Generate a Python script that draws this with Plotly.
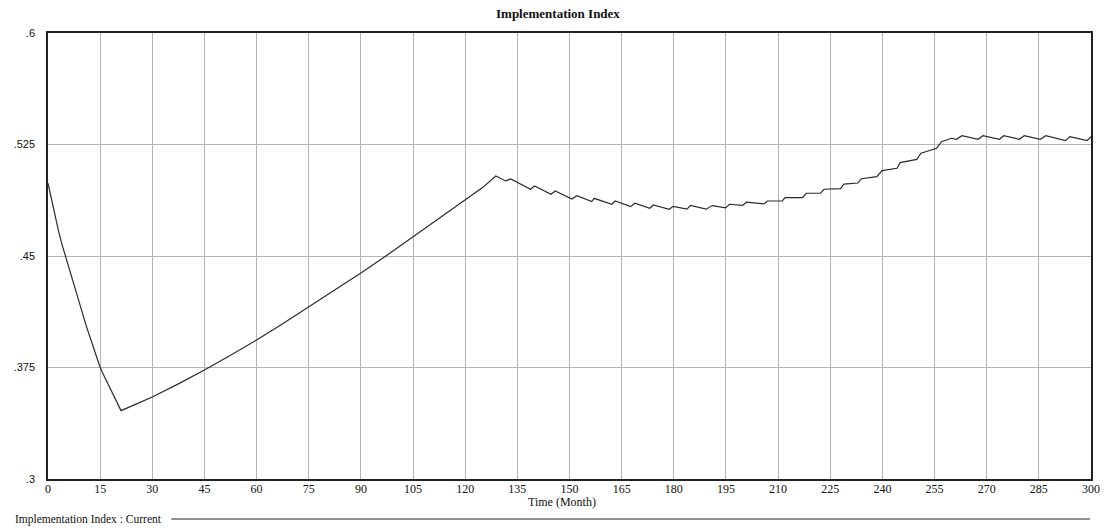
import plotly.graph_objects as go

# ---- data ----
time_month = [
    0, 1, 2, 3, 4, 5, 6, 7, 8, 9, 10, 11, 12, 13, 14, 15, 16, 17, 18, 19, 20, 21,
    25, 30, 37.5, 45, 52.5, 60, 67.5, 75, 82.5, 90, 97.5, 105, 112.5, 120, 125, 128.8,
    131.6, 133.1, 138.8, 139.9, 144.7, 145.9, 150.7, 152.1, 156.4, 157.1, 162.2, 163.1,
    167.6, 168.8, 173.1, 174.1, 178.7, 179.8, 183.8, 184.8, 189.3, 191.1, 194.9, 196.0,
    199.8, 200.9, 206.0, 206.9, 211.2, 212.0, 217.0, 218.1, 222.2, 223.2, 228.0, 228.9,
    232.9, 234.0, 238.4, 239.9, 244.2, 245.1, 249.9, 251.1, 255.6, 257.0, 259.9, 261.3,
    262.9, 267.5, 268.9, 273.7, 274.9, 279.4, 280.8, 285.4, 287.0, 292.7, 293.9, 298.9, 300.0,
]
implementation_index = [
    0.499, 0.488, 0.477, 0.467, 0.458, 0.450, 0.442, 0.434, 0.426, 0.418, 0.410, 0.403,
    0.396, 0.389, 0.382, 0.375, 0.370, 0.365, 0.360, 0.355, 0.350, 0.346,
    0.3500, 0.3552, 0.3640, 0.3733, 0.3832, 0.3935, 0.4044, 0.4157, 0.4270, 0.4386,
    0.4505, 0.4628, 0.4750, 0.4877, 0.4960, 0.5038,
    0.5005, 0.5018, 0.4949, 0.4971, 0.4915, 0.4937, 0.4883, 0.4906, 0.4866, 0.4888,
    0.4848, 0.4870, 0.4832, 0.4855, 0.4821, 0.4843, 0.4814, 0.4834, 0.4815, 0.4841,
    0.4815, 0.4839, 0.4824, 0.4848, 0.4840, 0.4862, 0.4850, 0.4870, 0.4870, 0.4892,
    0.4892, 0.4922, 0.4922, 0.4949, 0.4953, 0.4984, 0.4991, 0.5020, 0.5034, 0.5074,
    0.5090, 0.5128, 0.5150, 0.5191, 0.5225, 0.5269, 0.5292, 0.5285, 0.5309, 0.5285,
    0.5309, 0.5285, 0.5309, 0.5285, 0.5309, 0.5285, 0.5309, 0.5276, 0.5303, 0.5276, 0.5303,
]
x_tick_vals = list(range(0, 301, 15))
y_tick_vals = [0.3, 0.375, 0.45, 0.525, 0.6]
y_tick_text = [".3", ".375", ".45", ".525", ".6"]

title_text = "Implementation Index"
x_title = "Time (Month)"
legend_text = "Implementation Index : Current"

# ---- layout geometry ----
W, H = 1112, 531
ML, MR, MT, MB = 48, 15, 33, 52
PW, PH = W - ML - MR, H - MT - MB


def px_to_paper_x(px):
    return (px - ML) / PW


def py_to_paper_y(py):
    return (H - MB - py) / PH


fig = go.Figure()
fig.add_trace(go.Scatter(
    x=time_month, y=implementation_index, mode="lines",
    line=dict(color="#2b2b2b", width=1.2), showlegend=False,
    name=legend_text,
))

serif = "Liberation Serif, Times New Roman, serif"
sans = "Liberation Sans, Arial, sans-serif"

fig.update_layout(
    width=W, height=H,
    margin=dict(l=ML, r=MR, t=MT, b=MB, pad=0),
    paper_bgcolor="white", plot_bgcolor="white",
    xaxis=dict(
        range=[0, 300], tickvals=x_tick_vals, ticks="",
        tickfont=dict(family=serif, size=12, color="#111"),
        showgrid=True, gridcolor="#b4b4b4", gridwidth=1,
        showline=True, linecolor="#222", linewidth=1.5, mirror=True,
        zeroline=False, ticklabelstandoff=-2,
    ),
    yaxis=dict(
        range=[0.3, 0.6], tickvals=y_tick_vals, ticktext=y_tick_text, ticks="",
        tickfont=dict(family=sans, size=11, color="#111"),
        showgrid=True, gridcolor="#b4b4b4", gridwidth=1,
        showline=True, linecolor="#222", linewidth=1.5, mirror=True,
        zeroline=False, ticklabelstandoff=9,
    ),
    annotations=[
        dict(text="<b>" + title_text + "</b>", xref="paper", yref="paper",
             x=px_to_paper_x(561), y=py_to_paper_y(14), xanchor="center", yanchor="middle",
             showarrow=False, font=dict(family=serif, size=13, color="#111")),
        dict(text=x_title, xref="paper", yref="paper",
             x=px_to_paper_x(565), y=py_to_paper_y(502), xanchor="center", yanchor="middle",
             showarrow=False, font=dict(family=serif, size=12, color="#111")),
        dict(text=legend_text, xref="paper", yref="paper",
             x=px_to_paper_x(13), y=py_to_paper_y(519), xanchor="left", yanchor="middle",
             showarrow=False, font=dict(family=serif, size=11.5, color="#111")),
    ],
    shapes=[
        dict(type="line", xref="paper", yref="paper",
             x0=px_to_paper_x(172), x1=px_to_paper_x(1096),
             y0=py_to_paper_y(519), y1=py_to_paper_y(519),
             line=dict(color="#222", width=1.2)),
    ],
)

fig.write_html("out.html")
